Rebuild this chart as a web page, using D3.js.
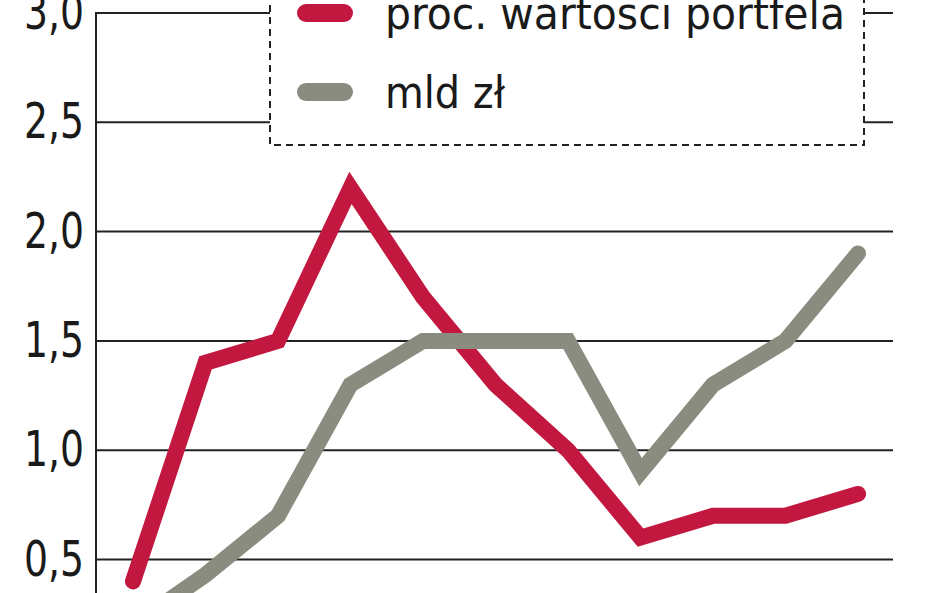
<!DOCTYPE html>
<html><head><meta charset="utf-8">
<script src="https://cdn.jsdelivr.net/npm/d3@7"></script>
<style>html,body{margin:0;padding:0;background:#fff;overflow:hidden}</style>
</head><body>
<svg id="c" width="948" height="593"></svg>
<script>
const periods = ["1","2","3","4","5","6","7","8","9","10","11"];
const procValues = [0.4, 1.4, 1.5, 2.2, 1.7, 1.3, 1.0, 0.6, 0.7, 0.7, 0.8];
const mldValues  = [0.2, 0.43, 0.7, 1.3, 1.5, 1.5, 1.5, 0.9, 1.3, 1.5, 1.9];
const yTicks = [0.5, 1.0, 1.5, 2.0, 2.5, 3.0];
const seriesNames = ["proc. wartosci portfela", "mld zł"];
const seriesColors = ["#c2183f", "#8a8c7f"];

const svg = d3.select("#c");
const font = "'Liberation Sans Narrow','DejaVu Sans Condensed',sans-serif";
const x = d3.scalePoint().domain(periods).range([133, 858]);
const y = d3.scaleLinear().domain([0, 3]).range([13 + 3 * 218.6, 13]);
const axisX = 96, gridEnd = 893;

// gridlines
svg.append("g").selectAll("line").data(yTicks).join("line")
  .attr("x1", axisX).attr("x2", gridEnd)
  .attr("y1", d => y(d)).attr("y2", d => y(d))
  .attr("stroke", "#222").attr("stroke-width", 2);

// y axis line
svg.append("line").attr("x1", axisX).attr("x2", axisX).attr("y1", y(3) - 1).attr("y2", 593)
  .attr("stroke", "#222").attr("stroke-width", 2);

// tick labels
svg.append("g").selectAll("text").data(yTicks).join("text")
  .attr("x", 84).attr("y", d => y(d) + 16)
  .attr("text-anchor", "end")
  .attr("font-family", font).attr("font-size", 50).attr("fill", "#1a1a1a")
  .attr("textLength", 60).attr("lengthAdjust", "spacingAndGlyphs")
  .text(d => d3.format(".1f")(d).replace(".", ","));

// lines
const line = d3.line().x((d, i) => x(periods[i])).y(d => y(d));
[procValues, mldValues].forEach((vals, k) => {
  svg.append("path").datum(vals)
    .attr("d", line).attr("fill", "none")
    .attr("stroke", seriesColors[k]).attr("stroke-width", 16)
    .attr("stroke-linejoin", "miter").attr("stroke-linecap", "round");
});

// legend box
const lg = svg.append("g");
lg.append("rect").attr("x", 270).attr("y", -10).attr("width", 594).attr("height", 155)
  .attr("fill", "#fff").attr("stroke", "#222").attr("stroke-width", 2)
  .attr("stroke-dasharray", "7,5");
const legY = [13, 92];
const legW = [460, 120];
seriesNames.forEach((n, i) => {
  lg.append("line").attr("x1", 306).attr("x2", 344).attr("y1", legY[i]).attr("y2", legY[i])
    .attr("stroke", seriesColors[i]).attr("stroke-width", 18).attr("stroke-linecap", "round");
  lg.append("text").attr("x", 385).attr("y", legY[i] + 16)
    .attr("font-family", font).attr("font-size", 44).attr("fill", "#1a1a1a")
    .attr("textLength", legW[i]).attr("lengthAdjust", "spacingAndGlyphs")
    .text(n);
});
</script>
</body></html>
